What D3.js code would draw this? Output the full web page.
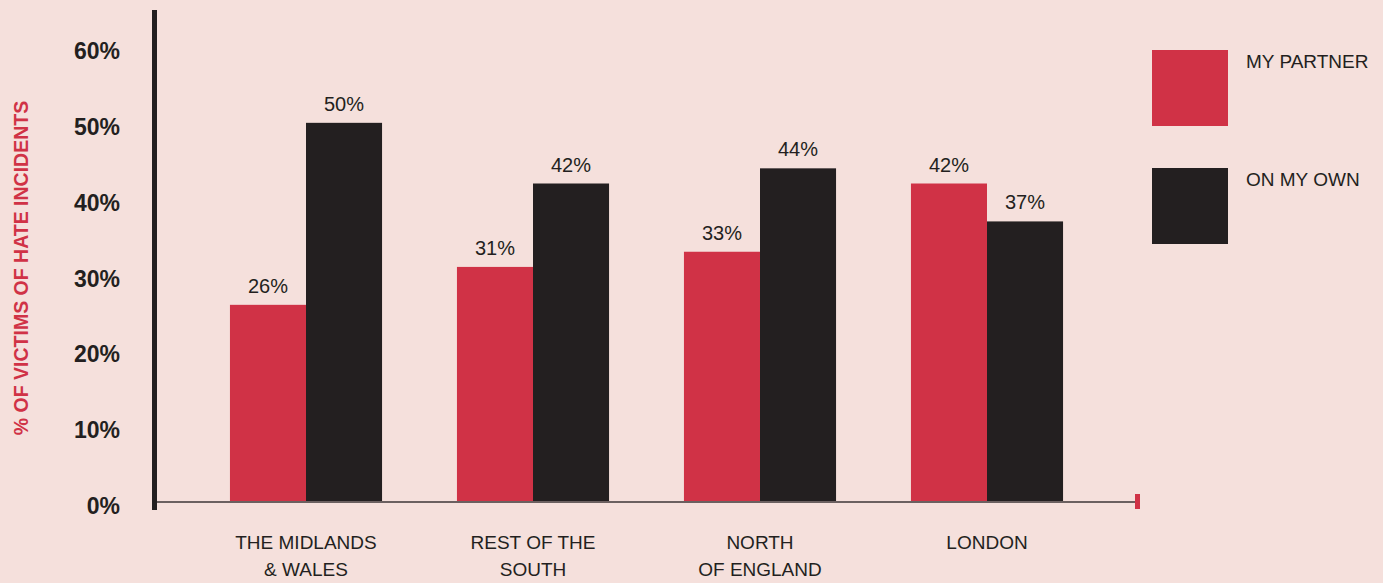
<!DOCTYPE html>
<meta charset="utf-8">
<head>
  <style>
    body { margin: 0; background: #f5e0dc; }
    svg { display: block; }
    text { font-family: "Liberation Sans", Arial, sans-serif; fill: #231f20; }
    .tick-label { font-weight: bold; font-size: 23px; }
    .ytitle { font-weight: bold; font-size: 19.5px; fill: #d03246; }
    .value { font-size: 20px; }
    .cat { font-size: 19px; }
    .legend-text { font-size: 19px; }
  </style>
  <script src="https://d3js.org/d3.v7.min.js"></script>
</head>
<body>
  <svg width="1383" height="583"></svg>
  <script>
    var regions = [["THE MIDLANDS", "& WALES"], ["REST OF THE", "SOUTH"], ["NORTH", "OF ENGLAND"], ["LONDON"]];
    var series = ["MY PARTNER", "ON MY OWN"];
    var partner = [26, 31, 33, 42];
    var ownOwn = [50, 42, 44, 37];
    var yTicks = [0, 10, 20, 30, 40, 50, 60];
    var colors = ["#d03246", "#231f20"];

    var svg = d3.select("svg");

    var keys = regions.map(function(r) { return r.join(" "); });
    var rows = keys.map(function(k, i) {
      return { key: k, lines: regions[i], values: [partner[i], ownOwn[i]] };
    });

    var x0 = d3.scaleBand()
      .domain(keys)
      .range([192.5, 1100.5])
      .paddingInner(0.33)
      .paddingOuter(0.165);

    var x1 = d3.scaleBand()
      .domain(series)
      .range([0, x0.bandwidth()]);

    var y = d3.scaleLinear()
      .domain([0, 60])
      .range([502, 47]);

    // bars
    var groups = svg.selectAll(".group")
      .data(rows)
      .enter().append("g")
      .attr("class", "group")
      .attr("transform", function(d) { return "translate(" + x0(d.key) + ",0)"; });

    groups.selectAll("rect")
      .data(function(d) { return d.values.map(function(v, i) { return { s: series[i], v: v, i: i }; }); })
      .enter().append("rect")
      .attr("x", function(d) { return x1(d.s); })
      .attr("y", function(d) { return y(d.v); })
      .attr("width", x1.bandwidth())
      .attr("height", function(d) { return y(0) - y(d.v); })
      .attr("fill", function(d) { return colors[d.i]; });

    groups.selectAll(".value")
      .data(function(d) { return d.values.map(function(v, i) { return { s: series[i], v: v }; }); })
      .enter().append("text")
      .attr("class", "value")
      .attr("x", function(d) { return x1(d.s) + x1.bandwidth() / 2; })
      .attr("y", function(d) { return y(d.v) - 12; })
      .attr("text-anchor", "middle")
      .text(function(d) { return d.v + "%"; });

    // category labels
    groups.each(function(d) {
      var t = d3.select(this).append("text")
        .attr("class", "cat")
        .attr("text-anchor", "middle")
        .attr("x", x0.bandwidth() / 2)
        .attr("y", 549);
      d.lines.forEach(function(line, i) {
        t.append("tspan")
          .attr("x", x0.bandwidth() / 2)
          .attr("dy", i ? 27 : 0)
          .text(line);
      });
    });

    // baseline
    svg.append("line")
      .attr("x1", 155).attr("x2", 1137)
      .attr("y1", y(0)).attr("y2", y(0))
      .attr("stroke", "#6b6060")
      .attr("stroke-width", 2);

    svg.append("rect")
      .attr("x", 1135).attr("y", y(0) - 8)
      .attr("width", 5).attr("height", 15)
      .attr("fill", "#d03246");

    // y axis
    svg.append("rect")
      .attr("x", 152).attr("y", 10)
      .attr("width", 5).attr("height", 500)
      .attr("fill", "#231f20");

    svg.selectAll(".tick-label")
      .data(yTicks)
      .enter().append("text")
      .attr("class", "tick-label")
      .attr("x", 120)
      .attr("y", function(d) { return y(d) + 4; })
      .attr("dy", "0.35em")
      .attr("text-anchor", "end")
      .text(function(d) { return d + "%"; });

    svg.append("text")
      .attr("class", "ytitle")
      .attr("transform", "translate(28,268) rotate(-90)")
      .attr("text-anchor", "middle")
      .text("% OF VICTIMS OF HATE INCIDENTS");

    // legend
    var legend = svg.selectAll(".legend")
      .data(series)
      .enter().append("g")
      .attr("class", "legend")
      .attr("transform", function(d, i) { return "translate(1152," + (50 + i * 118) + ")"; });

    legend.append("rect")
      .attr("width", 76).attr("height", 76)
      .attr("fill", function(d, i) { return colors[i]; });

    legend.append("text")
      .attr("class", "legend-text")
      .attr("x", 94)
      .attr("y", 18)
      .text(function(d) { return d; });
  </script>
</body>
